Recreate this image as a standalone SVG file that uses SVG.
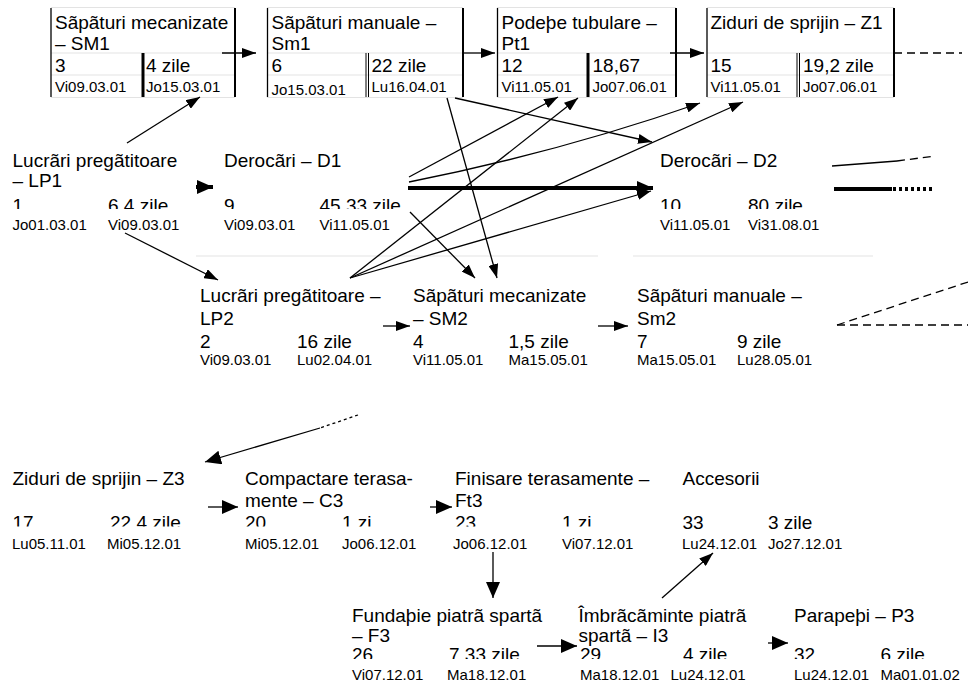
<svg xmlns="http://www.w3.org/2000/svg" width="968" height="688" viewBox="0 0 968 688">
<defs>
<style>
text{font-family:"Liberation Sans",Arial,sans-serif;fill:#000}
.t{font-size:19px}
.d{font-size:15px}
.c{fill:none;stroke:#000;stroke-width:1.3}
.ck{fill:none;stroke:#000;stroke-width:4}
.bl{stroke:#000;stroke-width:1.3}
.br{stroke:#000;stroke-width:2}
.bt{stroke:#000;stroke-width:3}
.bd{stroke:#000;stroke-width:1}
.g{stroke:#e3e3e3;stroke-width:1}
</style>
<marker id="ah" viewBox="0 0 14 10" refX="14" refY="5" markerWidth="14" markerHeight="10" markerUnits="userSpaceOnUse" orient="auto"><path d="M0,0L14,5L0,10z" fill="#000"/></marker>
<marker id="ahb" viewBox="0 0 16 14" refX="16" refY="7" markerWidth="16" markerHeight="14" markerUnits="userSpaceOnUse" orient="auto"><path d="M0,0L16,7L0,14z" fill="#000"/></marker>
<clipPath id="k1"><rect x="0" y="185" width="968" height="24"/></clipPath>
<clipPath id="k3"><rect x="0" y="505" width="968" height="21.5"/></clipPath>
<clipPath id="k4"><rect x="0" y="640" width="968" height="19"/></clipPath>
</defs>
<rect width="968" height="688" fill="#fff"/>

<g id="grid">
<line class="g" x1="196" y1="256" x2="598" y2="256"/>
<line class="g" x1="633" y1="256" x2="873" y2="256"/>
</g>

<g id="node-SM1">
<line class="g" x1="51" y1="7.5" x2="235" y2="7.5"/>
<line class="g" x1="51" y1="53" x2="235" y2="53"/>
<line class="g" x1="51" y1="75" x2="235" y2="75"/>
<line class="g" x1="51" y1="97.5" x2="235" y2="97.5"/>
<line class="bl" x1="51" y1="8" x2="51" y2="97"/>
<line class="br" x1="235" y1="8" x2="235" y2="97"/>
<line class="bt" x1="143" y1="53" x2="143" y2="97"/>
<text class="t" x="55" y="28.5">Sãpãturi mecanizate</text>
<text class="t" x="55" y="50">– SM1</text>
<text class="t" x="55" y="72">3</text>
<text class="t" x="146" y="72">4 zile</text>
<text class="d" x="55" y="92">Vi09.03.01</text>
<text class="d" x="146" y="92">Jo15.03.01</text>
</g>

<g id="node-Sm1">
<line class="g" x1="267" y1="7.5" x2="463" y2="7.5"/>
<line class="g" x1="267" y1="53" x2="463" y2="53"/>
<line class="g" x1="267" y1="75" x2="463" y2="75"/>
<line class="g" x1="267" y1="97.5" x2="463" y2="97.5"/>
<line class="bl" x1="267.5" y1="8" x2="267.5" y2="97"/>
<line class="br" x1="463" y1="8" x2="463" y2="97"/>
<line class="bd" x1="366" y1="53" x2="366" y2="97"/>
<line class="bd" x1="368.5" y1="53" x2="368.5" y2="97"/>
<text class="t" x="271.5" y="28.5">Sãpãturi manuale –</text>
<text class="t" x="271.5" y="50">Sm1</text>
<text class="t" x="271.5" y="72">6</text>
<text class="t" x="371.5" y="72">22 zile</text>
<text class="d" x="271.5" y="94.5">Jo15.03.01</text>
<text class="d" x="371.5" y="92">Lu16.04.01</text>
</g>

<g id="node-Pt1">
<line class="g" x1="497" y1="7.5" x2="676" y2="7.5"/>
<line class="g" x1="497" y1="53" x2="676" y2="53"/>
<line class="g" x1="497" y1="75" x2="676" y2="75"/>
<line class="g" x1="497" y1="97.5" x2="676" y2="97.5"/>
<line class="bl" x1="497.5" y1="8" x2="497.5" y2="97"/>
<line class="br" x1="676" y1="8" x2="676" y2="97"/>
<line class="bt" x1="588" y1="53" x2="588" y2="97"/>
<text class="t" x="501.5" y="28.5">Podeþe tubulare –</text>
<text class="t" x="501.5" y="50">Pt1</text>
<text class="t" x="501.5" y="72">12</text>
<text class="t" x="592.5" y="72">18,67</text>
<text class="d" x="501.5" y="92">Vi11.05.01</text>
<text class="d" x="592.5" y="92">Jo07.06.01</text>
</g>

<g id="node-Z1">
<line class="g" x1="707" y1="7.5" x2="894" y2="7.5"/>
<line class="g" x1="707" y1="53" x2="894" y2="53"/>
<line class="g" x1="707" y1="75" x2="894" y2="75"/>
<line class="g" x1="707" y1="97.5" x2="894" y2="97.5"/>
<line class="bl" x1="707" y1="8" x2="707" y2="97"/>
<line class="br" x1="894" y1="8" x2="894" y2="97"/>
<line class="bd" x1="797" y1="53" x2="797" y2="97"/>
<line class="bd" x1="799.5" y1="53" x2="799.5" y2="97"/>
<text class="t" x="710.5" y="28.5">Ziduri de sprijin – Z1</text>
<text class="t" x="710.5" y="72">15</text>
<text class="t" x="803" y="72">19,2 zile</text>
<text class="d" x="710.5" y="92">Vi11.05.01</text>
<text class="d" x="803" y="92">Jo07.06.01</text>
</g>

<g id="node-LP1">
<text class="t" x="12.5" y="166.5">Lucrãri pregãtitoare</text>
<text class="t" x="12.5" y="187">– LP1</text>
<g clip-path="url(#k1)"><text class="t" x="12.5" y="212">1</text><text class="t" x="108" y="212">6.4 zile</text></g>
<text class="d" x="12.5" y="230">Jo01.03.01</text>
<text class="d" x="108" y="230">Vi09.03.01</text>
</g>

<g id="node-D1">
<text class="t" x="224" y="166.5">Derocãri – D1</text>
<g clip-path="url(#k1)"><text class="t" x="224" y="212">9</text><text class="t" x="319.5" y="212">45.33 zile</text></g>
<text class="d" x="224" y="230">Vi09.03.01</text>
<text class="d" x="319.5" y="230">Vi11.05.01</text>
</g>

<g id="node-D2">
<text class="t" x="660" y="166.5">Derocãri – D2</text>
<g clip-path="url(#k1)"><text class="t" x="660" y="212">10</text><text class="t" x="748" y="212">80 zile</text></g>
<text class="d" x="660" y="230">Vi11.05.01</text>
<text class="d" x="748" y="230">Vi31.08.01</text>
</g>

<g id="node-LP2">
<text class="t" x="200" y="302">Lucrãri pregãtitoare –</text>
<text class="t" x="200" y="324.5">LP2</text>
<text class="t" x="200" y="347.5">2</text>
<text class="t" x="297" y="347.5">16 zile</text>
<text class="d" x="200" y="365">Vi09.03.01</text>
<text class="d" x="297" y="365">Lu02.04.01</text>
</g>

<g id="node-SM2">
<text class="t" x="413" y="302">Sãpãturi mecanizate</text>
<text class="t" x="413" y="324.5">– SM2</text>
<text class="t" x="413" y="347.5">4</text>
<text class="t" x="508.5" y="347.5">1,5 zile</text>
<text class="d" x="413" y="365">Vi11.05.01</text>
<text class="d" x="508.5" y="365">Ma15.05.01</text>
</g>

<g id="node-Sm2">
<text class="t" x="637" y="302">Sãpãturi manuale –</text>
<text class="t" x="637" y="324.5">Sm2</text>
<text class="t" x="637" y="347.5">7</text>
<text class="t" x="737" y="347.5">9 zile</text>
<text class="d" x="637" y="365">Ma15.05.01</text>
<text class="d" x="737" y="365">Lu28.05.01</text>
</g>

<g id="node-Z3">
<text class="t" x="12.5" y="485">Ziduri de sprijin – Z3</text>
<g clip-path="url(#k3)"><text class="t" x="12.5" y="529">17</text><text class="t" x="110" y="529">22.4 zile</text></g>
<text class="d" x="12" y="548.5">Lu05.11.01</text>
<text class="d" x="107" y="548.5">Mi05.12.01</text>
</g>

<g id="node-C3">
<text class="t" x="245" y="485">Compactare terasa-</text>
<text class="t" x="245" y="507">mente – C3</text>
<g clip-path="url(#k3)"><text class="t" x="245" y="529">20</text><text class="t" x="342" y="529">1 zi</text></g>
<text class="d" x="245" y="548.5">Mi05.12.01</text>
<text class="d" x="342" y="548.5">Jo06.12.01</text>
</g>

<g id="node-Ft3">
<text class="t" x="455" y="485">Finisare terasamente –</text>
<text class="t" x="455" y="507">Ft3</text>
<g clip-path="url(#k3)"><text class="t" x="455" y="529">23</text><text class="t" x="562" y="529">1 zi</text></g>
<text class="d" x="453" y="548.5">Jo06.12.01</text>
<text class="d" x="562" y="548.5">Vi07.12.01</text>
</g>

<g id="node-Acc">
<text class="t" x="682.5" y="485">Accesorii</text>
<text class="t" x="682.5" y="528.5">33</text>
<text class="t" x="768" y="528.5">3 zile</text>
<text class="d" x="682" y="548.5">Lu24.12.01</text>
<text class="d" x="768" y="548.5">Jo27.12.01</text>
</g>

<g id="node-F3">
<text class="t" x="352" y="621.5">Fundaþie piatrã spartã</text>
<text class="t" x="352" y="641.5">– F3</text>
<g clip-path="url(#k4)"><text class="t" x="352" y="661">26</text><text class="t" x="449" y="661">7.33 zile</text></g>
<text class="d" x="352" y="680">Vi07.12.01</text>
<text class="d" x="447" y="680">Ma18.12.01</text>
</g>

<g id="node-I3">
<text class="t" x="578.5" y="621.5">Îmbrãcãminte piatrã</text>
<text class="t" x="578.5" y="641.5">spartã – I3</text>
<g clip-path="url(#k4)"><text class="t" x="580" y="661">29</text><text class="t" x="683" y="661">4 zile</text></g>
<text class="d" x="580" y="680">Ma18.12.01</text>
<text class="d" x="670.5" y="680">Lu24.12.01</text>
</g>

<g id="node-P3">
<text class="t" x="794" y="621.5">Parapeþi – P3</text>
<g clip-path="url(#k4)"><text class="t" x="794" y="661">32</text><text class="t" x="880.5" y="661">6 zile</text></g>
<text class="d" x="794" y="680">Lu24.12.01</text>
<text class="d" x="880.5" y="680">Ma01.01.02</text>
</g>

<g id="connectors">
<line class="c" x1="127" y1="143" x2="200" y2="97" marker-end="url(#ah)"/>
<line class="c" x1="125" y1="233" x2="218" y2="280" marker-end="url(#ah)"/>
<line class="ck" x1="196" y1="187" x2="213" y2="187" marker-end="url(#ahb)"/>
<line class="c" x1="222" y1="53" x2="256" y2="53" marker-end="url(#ah)"/>
<line class="c" x1="463" y1="53" x2="495" y2="53" marker-end="url(#ah)"/>
<line class="c" x1="670" y1="53" x2="704" y2="53" marker-end="url(#ah)"/>
<line class="c" x1="894" y1="53" x2="962" y2="53" stroke-dasharray="8,5"/>
<line class="ck" x1="408" y1="188" x2="653" y2="188" marker-end="url(#ahb)"/>
<line class="c" x1="409" y1="177" x2="558" y2="97" marker-end="url(#ah)"/>
<path class="c" d="M409,182Q560,152 700,103" marker-end="url(#ah)"/>
<line class="c" x1="350" y1="278" x2="578" y2="98" marker-end="url(#ah)"/>
<line class="c" x1="350" y1="278" x2="743" y2="102" marker-end="url(#ah)"/>
<line class="c" x1="350" y1="278" x2="651" y2="191" marker-end="url(#ah)"/>
<line class="c" x1="447" y1="98" x2="497" y2="278" marker-end="url(#ah)"/>
<line class="c" x1="455" y1="98" x2="652" y2="142" marker-end="url(#ah)"/>
<line class="c" x1="410" y1="212" x2="475" y2="278" marker-end="url(#ah)"/>
<line class="c" x1="832" y1="166" x2="897" y2="161"/>
<line class="c" x1="897" y1="161" x2="935" y2="156" stroke-dasharray="8,5"/>
<line class="ck" x1="834" y1="189" x2="892" y2="189"/>
<line class="ck" x1="893" y1="189" x2="933" y2="189" stroke-dasharray="3,3"/>
<line class="c" x1="383" y1="326" x2="410" y2="326" marker-end="url(#ah)"/>
<line class="c" x1="598" y1="326" x2="628" y2="326" marker-end="url(#ah)"/>
<line class="c" x1="837" y1="325" x2="968" y2="282" stroke-dasharray="8,5"/>
<line class="c" x1="837" y1="325" x2="968" y2="325" stroke-dasharray="8,5"/>
<line class="c" x1="358" y1="415" x2="320" y2="428" stroke-width="3" stroke-dasharray="3,3"/>
<line class="c" x1="320" y1="428" x2="205" y2="462" stroke-width="3" marker-end="url(#ahb)"/>
<line class="c" x1="208" y1="507" x2="238" y2="507" stroke-width="3" marker-end="url(#ahb)"/>
<line class="c" x1="430" y1="507" x2="452" y2="507" stroke-width="3" marker-end="url(#ahb)"/>
<line class="c" x1="493" y1="552" x2="493" y2="598" stroke-width="3" marker-end="url(#ahb)"/>
<line class="c" x1="537" y1="646" x2="577" y2="646" stroke-width="3" marker-end="url(#ahb)"/>
<line class="c" x1="662" y1="598" x2="713" y2="553" marker-end="url(#ah)"/>
<line class="c" x1="768" y1="643" x2="788" y2="643" stroke-width="3" marker-end="url(#ahb)"/>
</g>
</svg>
